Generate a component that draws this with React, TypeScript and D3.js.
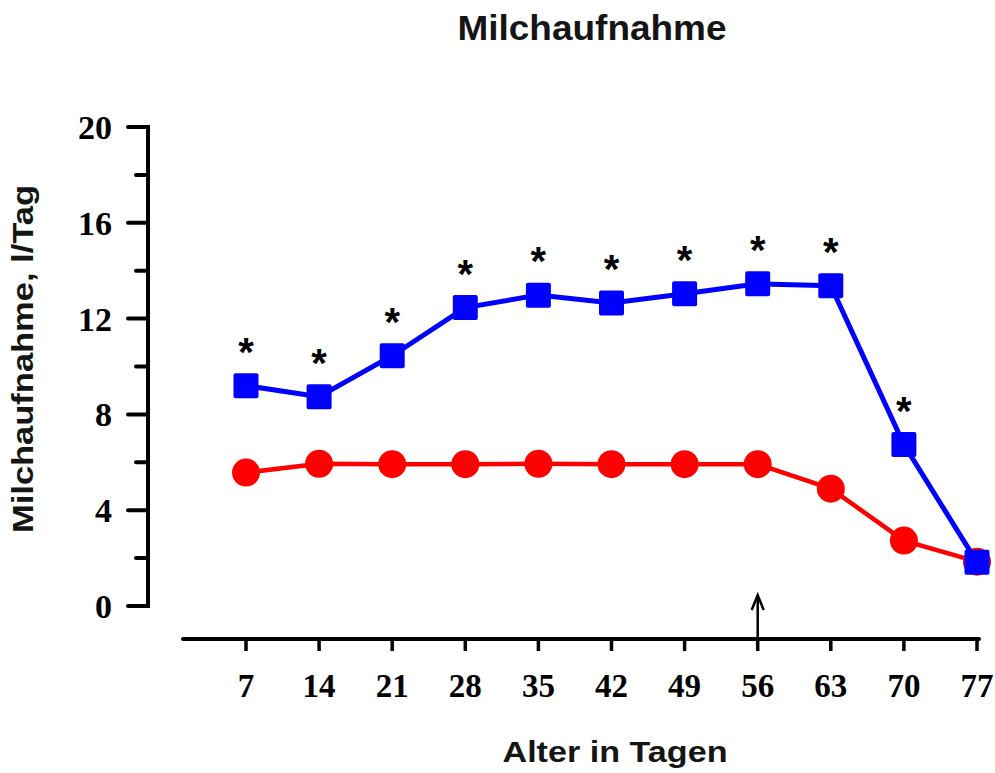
import React from "react";
import * as d3 from "d3";

const days = [7, 14, 21, 28, 35, 42, 49, 56, 63, 70, 77];
const blueValues = [9.2, 8.74, 10.45, 12.46, 12.98, 12.65, 13.04, 13.45, 13.37, 6.74, 1.83];
const redValues = [5.57, 5.94, 5.92, 5.92, 5.94, 5.92, 5.92, 5.92, 4.9, 2.73, 1.85];
const significant = [true, true, true, true, true, true, true, true, true, true, false];
const yTicks = [0, 4, 8, 12, 16, 20];
const yMinorTicks = [2, 6, 10, 14, 18];
const arrowDay = 56;

const W = 995;
const H = 773;

export default function App() {
  const x = d3.scaleLinear().domain([7, 77]).range([246, 977]);
  const y = d3.scaleLinear().domain([0, 20]).range([606, 127]);

  const lineGen = d3
    .line<number>()
    .x((_, i) => x(days[i]))
    .y((v) => y(v));

  const serif = "'Liberation Serif', 'Times New Roman', serif";
  const sans = "'Liberation Sans', Arial, sans-serif";
  const axisX = 148;
  const axisY = 639;

  return (
    <svg
      width={W}
      height={H}
      style={{ position: "absolute", left: 0, top: 0, background: "#fff" }}
    >
      {/* Title */}
      <text
        x={592}
        y={40}
        textAnchor="middle"
        fontFamily={sans}
        fontWeight="bold"
        fontSize={35}
        fill="#151515"
        textLength={269}
        lengthAdjust="spacingAndGlyphs"
      >
        Milchaufnahme
      </text>

      {/* Y axis */}
      <line x1={axisX} x2={axisX} y1={y(20) - 2} y2={y(0) + 2} stroke="#000" strokeWidth={4} />
      {yTicks.map((t) => (
        <g key={"yt" + t}>
          <line x1={128} x2={axisX} y1={y(t)} y2={y(t)} stroke="#000" strokeWidth={4} strokeLinecap="round" />
          <text
            x={112}
            y={y(t)}
            dy={12}
            textAnchor="end"
            fontFamily={serif}
            fontWeight="bold"
            fontSize={34}
            fill="#000"
          >
            {t}
          </text>
        </g>
      ))}
      {yMinorTicks.map((t) => (
        <line key={"ym" + t} x1={136} x2={axisX} y1={y(t)} y2={y(t)} stroke="#000" strokeWidth={4} strokeLinecap="round" />
      ))}

      {/* Y label */}
      <text
        transform={`translate(33, 359) rotate(-90)`}
        textAnchor="middle"
        fontFamily={sans}
        fontWeight="bold"
        fontSize={29}
        fill="#151515"
        textLength={348}
        lengthAdjust="spacingAndGlyphs"
      >
        Milchaufnahme, l/Tag
      </text>

      {/* X axis */}
      <line x1={183} x2={979} y1={axisY} y2={axisY} stroke="#000" strokeWidth={4} strokeLinecap="round" />
      {days.map((d) => (
        <g key={"xt" + d}>
          <line x1={x(d)} x2={x(d)} y1={axisY} y2={651} stroke="#000" strokeWidth={3.5} />
          <text
            x={x(d)}
            y={697}
            textAnchor="middle"
            fontFamily={serif}
            fontWeight="bold"
            fontSize={33}
            fill="#000"
          >
            {d}
          </text>
        </g>
      ))}

      {/* Arrow */}
      <line x1={x(arrowDay)} x2={x(arrowDay)} y1={596} y2={axisY} stroke="#000" strokeWidth={2.5} />
      <path
        d={`M${x(arrowDay) - 6},${610} L${x(arrowDay)},${595} L${x(arrowDay) + 6},${610}`}
        fill="none"
        stroke="#000"
        strokeWidth={2.5}
      />

      {/* X label */}
      <text
        x={615}
        y={762}
        textAnchor="middle"
        fontFamily={sans}
        fontWeight="bold"
        fontSize={29}
        fill="#151515"
        textLength={225}
        lengthAdjust="spacingAndGlyphs"
      >
        Alter in Tagen
      </text>

      {/* Red series */}
      <path d={lineGen(redValues) || ""} fill="none" stroke="#ff0000" strokeWidth={4.5} />
      {redValues.map((v, i) => (
        <circle key={"r" + i} cx={x(days[i])} cy={y(v)} r={14} fill="#ff0000" />
      ))}

      {/* Blue series */}
      <path d={lineGen(blueValues) || ""} fill="none" stroke="#0000ff" strokeWidth={5} />
      {blueValues.map((v, i) => (
        <rect
          key={"b" + i}
          x={x(days[i]) - 12.5}
          y={y(v) - 12.5}
          width={25}
          height={25}
          rx={2}
          fill="#0000ff"
        />
      ))}

      {/* Significance asterisks */}
      {blueValues.map((v, i) =>
        significant[i] ? (
          <text
            key={"s" + i}
            x={x(days[i])}
            y={y(v) - 42 + 22}
            textAnchor="middle"
            fontFamily={sans}
            fontWeight="bold"
            fontSize={40}
            fill="#000"
          >
            *
          </text>
        ) : null
      )}
    </svg>
  );
}
